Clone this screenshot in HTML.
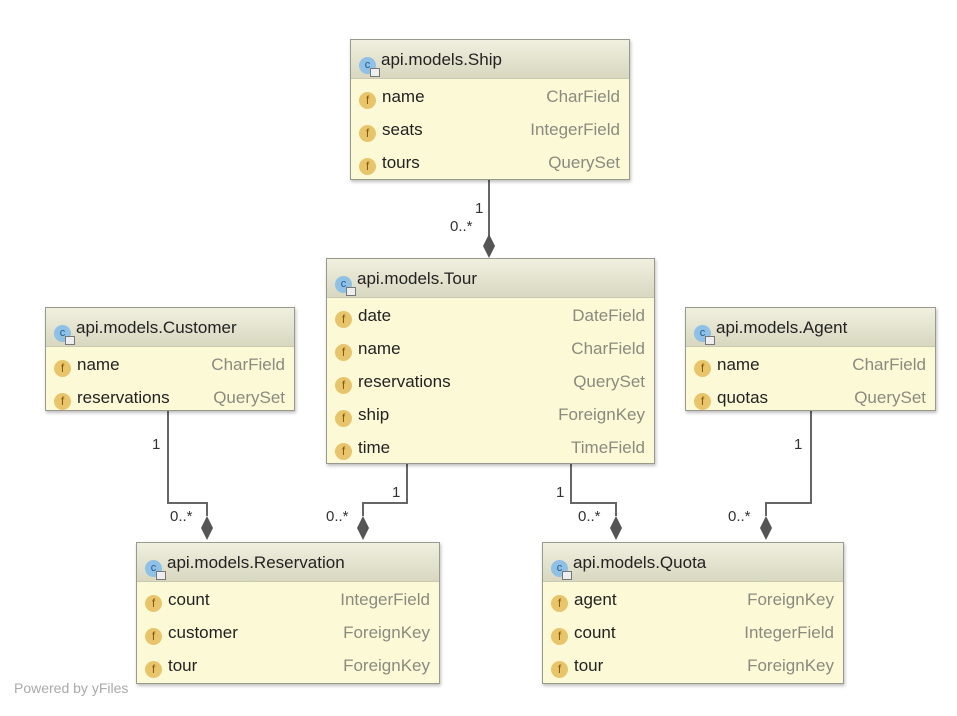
<!DOCTYPE html>
<html><head><meta charset="utf-8"><style>
body{margin:0;width:957px;height:716px;background:#fff;position:relative;font-family:"Liberation Sans",sans-serif;overflow:hidden}
.box{position:absolute;background:#fcfad6;border:1px solid #9a9a8c;box-shadow:1px 2px 3px rgba(0,0,0,.25);box-sizing:border-box}
.hd{height:38px;background:linear-gradient(#f1f0e0,#d8d7bf);border-bottom:1px solid #c9c8b0;font-size:17px;color:#222;line-height:40px;padding-left:8px;white-space:nowrap}
.ci{display:inline-block;width:17px;height:17px;border-radius:50%;background:#8fc0e6;color:#1d5b8c;font-size:11px;line-height:16px;text-align:center;vertical-align:-3px;margin-right:5px;position:relative}
.ci:after{content:"";position:absolute;right:-4px;bottom:-3px;width:8px;height:7px;background:#eee;border:1px solid #777}
.row{height:33px;line-height:36px;font-size:17px;color:#222;padding:0 8px;position:relative;white-space:nowrap}
.row .t{position:absolute;right:9px;top:0;color:#8a8a80}
.f{display:inline-block;width:17px;height:17px;border-radius:50%;background:#e8c56a;color:#8a5a10;font-size:12px;line-height:17px;text-align:center;margin-right:6px;vertical-align:-2px}
.lb{position:absolute;font-size:15px;color:#333}
.pw{position:absolute;left:14px;top:680px;font-size:14px;color:#aaa}
</style></head><body>
<svg width="957" height="716" style="position:absolute;left:0;top:0">
<g stroke="#666" stroke-width="2" fill="none">
<path d="M489 179V236"/>
<path d="M168 410V503H207V516"/>
<path d="M407 463V503H363V516"/>
<path d="M571 463V503H616V516"/>
<path d="M811 410V503H766V516"/>
</g>
<g fill="#555">
<path d="M489 234l6 12-6 12-6-12z"/>
<path d="M207 516l6 12-6 12-6-12z"/>
<path d="M363 516l6 12-6 12-6-12z"/>
<path d="M616 516l6 12-6 12-6-12z"/>
<path d="M766 516l6 12-6 12-6-12z"/>
</g>
</svg>
<div class="lb" style="left:475px;top:200px">1</div>
<div class="lb" style="left:450px;top:218px">0..*</div>
<div class="lb" style="left:152px;top:436px">1</div>
<div class="lb" style="left:170px;top:508px">0..*</div>
<div class="lb" style="left:392px;top:484px">1</div>
<div class="lb" style="left:326px;top:508px">0..*</div>
<div class="lb" style="left:556px;top:484px">1</div>
<div class="lb" style="left:578px;top:508px">0..*</div>
<div class="lb" style="left:794px;top:436px">1</div>
<div class="lb" style="left:728px;top:508px">0..*</div>

<div class="box" style="left:350px;top:39px;width:280px;height:141px">
<div class="hd"><span class="ci">c</span>api.models.Ship</div>
<div class="row"><span class="f">f</span>name<span class="t">CharField</span></div>
<div class="row"><span class="f">f</span>seats<span class="t">IntegerField</span></div>
<div class="row"><span class="f">f</span>tours<span class="t">QuerySet</span></div>
</div>
<div class="box" style="left:326px;top:258px;width:329px;height:206px">
<div class="hd"><span class="ci">c</span>api.models.Tour</div>
<div class="row"><span class="f">f</span>date<span class="t">DateField</span></div>
<div class="row"><span class="f">f</span>name<span class="t">CharField</span></div>
<div class="row"><span class="f">f</span>reservations<span class="t">QuerySet</span></div>
<div class="row"><span class="f">f</span>ship<span class="t">ForeignKey</span></div>
<div class="row"><span class="f">f</span>time<span class="t">TimeField</span></div>
</div>
<div class="box" style="left:45px;top:307px;width:250px;height:104px">
<div class="hd"><span class="ci">c</span>api.models.Customer</div>
<div class="row"><span class="f">f</span>name<span class="t">CharField</span></div>
<div class="row"><span class="f">f</span>reservations<span class="t">QuerySet</span></div>
</div>
<div class="box" style="left:685px;top:307px;width:251px;height:104px">
<div class="hd"><span class="ci">c</span>api.models.Agent</div>
<div class="row"><span class="f">f</span>name<span class="t">CharField</span></div>
<div class="row"><span class="f">f</span>quotas<span class="t">QuerySet</span></div>
</div>
<div class="box" style="left:136px;top:542px;width:304px;height:142px">
<div class="hd"><span class="ci">c</span>api.models.Reservation</div>
<div class="row"><span class="f">f</span>count<span class="t">IntegerField</span></div>
<div class="row"><span class="f">f</span>customer<span class="t">ForeignKey</span></div>
<div class="row"><span class="f">f</span>tour<span class="t">ForeignKey</span></div>
</div>
<div class="box" style="left:542px;top:542px;width:302px;height:142px">
<div class="hd"><span class="ci">c</span>api.models.Quota</div>
<div class="row"><span class="f">f</span>agent<span class="t">ForeignKey</span></div>
<div class="row"><span class="f">f</span>count<span class="t">IntegerField</span></div>
<div class="row"><span class="f">f</span>tour<span class="t">ForeignKey</span></div>
</div>
<div class="pw">Powered by yFiles</div>
</body></html>
